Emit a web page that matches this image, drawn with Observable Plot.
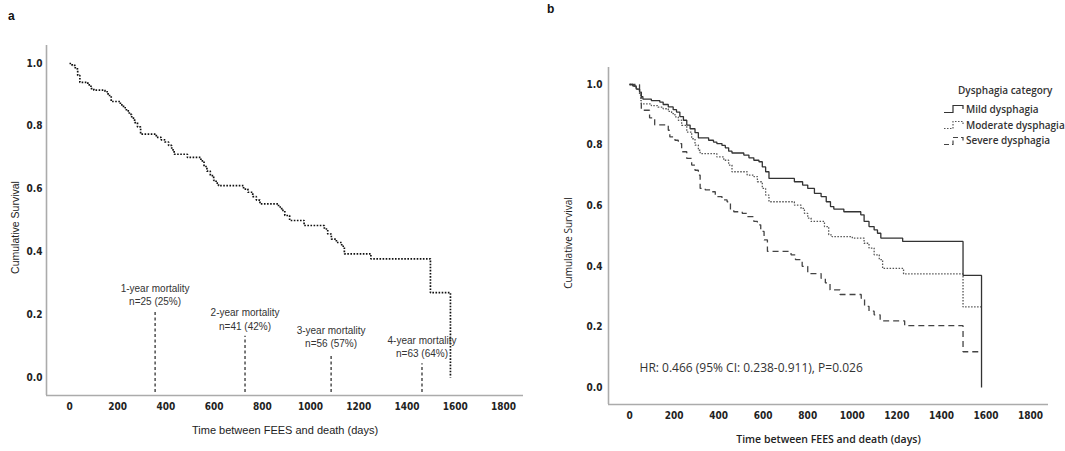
<!DOCTYPE html>
<html>
<head>
<meta charset="utf-8">
<script src="https://cdn.jsdelivr.net/npm/d3@7"></script>
<script src="https://cdn.jsdelivr.net/npm/@observablehq/plot@0.6"></script>
<style>
  html, body { margin: 0; padding: 0; background: #fff; }
  #wrap { position: relative; width: 1065px; height: 451px; overflow: hidden; background: #fff; }
  .panel { position: absolute; top: 0; }
  .tag { position: absolute; font-family: "Liberation Sans", Arial, sans-serif; font-weight: bold; font-size: 12px; color: #111; }
  #legend { position: absolute; left: 944px; top: 83px; font-family: "Open Sans", sans-serif; font-size: 10px; font-weight: 600; color: #333; }
  #legend .title { margin-left: 14px; height: 14px; line-height: 14px; margin-bottom: 4px; }
  #legend .row { display: flex; align-items: center; height: 15.8px; white-space: nowrap; }
  #legend svg { width: 21px; height: 11px; margin-right: 1px; }
</style>
</head>
<body>
<div id="wrap">
  <div class="tag" style="left:8px; top:9px;">a</div>
  <div class="tag" style="left:547px; top:2px;">b</div>
  <div id="panelA" class="panel" style="left:0px;"></div>
  <div id="panelB" class="panel" style="left:540px;"></div>
  <div id="legend"></div>
</div>
<script>
// ---------- shared ticks ----------
const xTicks = [0, 200, 400, 600, 800, 1000, 1200, 1400, 1600, 1800];
const yTicks = [0, 0.2, 0.4, 0.6, 0.8, 1.0];
const xTitle = "Time between FEES and death (days)";
const yTitle = "Cumulative Survival";

// ---------- panel a : overall Kaplan-Meier ----------
const timeA = [0, 11, 24, 34, 43, 76, 89, 101, 147, 160, 173, 211, 224, 236, 248, 258, 270, 282, 295, 360, 380, 395, 411, 424, 434, 489, 545, 558, 570, 584, 598, 608, 618, 722, 740, 760, 775, 790, 867, 880, 893, 913, 973, 1057, 1071, 1086, 1107, 1129, 1140, 1250, 1497, 1580];
const survA = [1.0, 0.994, 0.983, 0.962, 0.94, 0.932, 0.92, 0.915, 0.91, 0.898, 0.879, 0.868, 0.859, 0.849, 0.838, 0.826, 0.812, 0.798, 0.775, 0.765, 0.757, 0.75, 0.739, 0.725, 0.711, 0.701, 0.69, 0.672, 0.657, 0.643, 0.628, 0.619, 0.611, 0.6, 0.59, 0.576, 0.565, 0.553, 0.543, 0.532, 0.516, 0.5, 0.484, 0.473, 0.457, 0.441, 0.43, 0.418, 0.394, 0.378, 0.27, 0.0];

const mortDays  = [355, 728, 1085, 1462];
const mortTop   = [0.208, 0.131, 0.075, 0.044];
const mortTitle = ["1-year mortality", "2-year mortality", "3-year mortality", "4-year mortality"];
const mortCount = ["n=25 (25%)", "n=41 (42%)", "n=56 (57%)", "n=63 (64%)"];

// ---------- panel b : by dysphagia category ----------
const groups = ["Mild dysphagia", "Moderate dysphagia", "Severe dysphagia"];
const mildT = [0, 15, 30, 45, 53, 60, 98, 136, 151, 174, 196, 211, 226, 242, 257, 272, 294, 309, 355, 377, 392, 415, 430, 445, 460, 513, 536, 558, 581, 596, 611, 626, 740, 777, 800, 830, 860, 883, 902, 917, 962, 1038, 1053, 1075, 1098, 1113, 1128, 1226, 1497, 1580];
const mildS = [1.0, 0.995, 0.985, 0.975, 0.96, 0.952, 0.947, 0.942, 0.934, 0.926, 0.917, 0.909, 0.894, 0.882, 0.866, 0.854, 0.841, 0.824, 0.816, 0.81, 0.805, 0.799, 0.791, 0.78, 0.774, 0.767, 0.758, 0.75, 0.745, 0.728, 0.712, 0.69, 0.679, 0.668, 0.657, 0.641, 0.63, 0.613, 0.597, 0.589, 0.58, 0.57, 0.548, 0.531, 0.52, 0.509, 0.493, 0.482, 0.37, 0.0];
const modT = [0, 15, 30, 45, 50, 53, 98, 128, 151, 174, 189, 204, 219, 234, 257, 279, 294, 309, 317, 392, 423, 445, 460, 528, 558, 574, 596, 611, 626, 740, 770, 785, 800, 815, 875, 894, 909, 1000, 1053, 1075, 1098, 1121, 1136, 1230, 1497, 1580];
const modS = [1.0, 0.995, 0.985, 0.965, 0.947, 0.936, 0.93, 0.925, 0.92, 0.911, 0.904, 0.893, 0.882, 0.865, 0.843, 0.821, 0.8, 0.783, 0.772, 0.761, 0.75, 0.734, 0.712, 0.701, 0.696, 0.679, 0.657, 0.635, 0.613, 0.602, 0.591, 0.575, 0.559, 0.548, 0.531, 0.504, 0.498, 0.493, 0.476, 0.46, 0.438, 0.422, 0.393, 0.375, 0.266, 0.266];
const sevT = [0, 45, 53, 90, 113, 174, 181, 204, 219, 234, 257, 279, 294, 309, 317, 340, 362, 385, 415, 438, 453, 468, 506, 528, 558, 574, 589, 604, 619, 725, 745, 775, 800, 860, 879, 900, 945, 1040, 1055, 1075, 1098, 1125, 1235, 1497, 1580];
const sevS = [1.0, 0.97, 0.915, 0.89, 0.867, 0.849, 0.827, 0.816, 0.805, 0.778, 0.756, 0.734, 0.717, 0.701, 0.657, 0.652, 0.646, 0.63, 0.619, 0.613, 0.586, 0.58, 0.575, 0.564, 0.548, 0.537, 0.515, 0.487, 0.449, 0.438, 0.422, 0.4, 0.376, 0.36, 0.345, 0.322, 0.307, 0.294, 0.268, 0.252, 0.24, 0.22, 0.204, 0.118, 0.118];
const hrText = "HR: 0.466 (95% CI: 0.238-0.911), P=0.026";
const hrAt = {t: 45, s: 0.063};

// ---------- build tables ----------
const dataA = timeA.map((t, i) => ({t, s: survA[i]}));
const mort = mortDays.map((t, i) => ({t, top: mortTop[i], title: mortTitle[i], count: mortCount[i]}));
const toRows = (T, S, g) => T.map((t, i) => ({t, s: S[i], g}));
const mild = toRows(mildT, mildS, groups[0]);
const moderate = toRows(modT, modS, groups[1]);
const severe = toRows(sevT, sevS, groups[2]);

const fmt1 = d3.format(".1f");
const axisGray = "#ababab";
const tickFont = {fontFamily: "'Liberation Sans Narrow', 'DejaVu Sans Condensed', sans-serif", fontSize: 10, fontWeight: "bold", fill: "#222"};

// ---------- panel a ----------
const xDomA = [-95.4, 1883], yDomA = [-0.0573, 1.0573];
const plotA = Plot.plot({
  width: 540, height: 451,
  marginLeft: 46, marginRight: 17, marginTop: 45, marginBottom: 56,
  style: {background: "transparent", color: "#222"},
  x: {domain: xDomA, label: null},
  y: {domain: yDomA, label: null},
  marks: [
    Plot.axisX({ticks: xTicks, tickSize: 0, tickPadding: 7, tickFormat: d => String(d), label: null, ...tickFont}),
    Plot.axisY({ticks: yTicks, tickSize: 0, tickPadding: 4, tickFormat: fmt1, label: null, ...tickFont}),
    Plot.ruleX([xDomA[0]], {stroke: axisGray, strokeWidth: 1.6}),
    Plot.ruleY([yDomA[0]], {stroke: axisGray, strokeWidth: 1.6}),
    Plot.line(dataA, {x: "t", y: "s", curve: "step-after", stroke: "#111", strokeWidth: 1.7, strokeDasharray: "1.6,1.5", strokeLinecap: "butt", strokeLinejoin: "miter"}),
    Plot.ruleX(mort, {x: "t", y1: -0.048, y2: "top", stroke: "#222", strokeWidth: 1.2, strokeDasharray: "3,2.5"}),
    Plot.text(mort, {x: "t", y: d => d.top + 0.074, text: "title", fontFamily: "'Liberation Sans', sans-serif", fontSize: 10, fill: "#333"}),
    Plot.text(mort, {x: "t", y: d => d.top + 0.032, text: "count", fontFamily: "'Liberation Sans', sans-serif", fontSize: 10, fill: "#333"}),
    Plot.text([xTitle], {frameAnchor: "bottom", dy: 38, textAnchor: "middle", fontFamily: "'Liberation Sans Narrow', sans-serif", fontSize: 11, fill: "#222"}),
    Plot.text([yTitle], {frameAnchor: "left", dx: -31, dy: 7, rotate: -90, textAnchor: "middle", fontFamily: "'Liberation Sans', sans-serif", fontSize: 10.5, fill: "#222"})
  ]
});
document.getElementById("panelA").append(plotA);

// ---------- panel b ----------
const xDomB = [-94.3, 1880.6], yDomB = [-0.0561, 1.0561];
const bFont = "'Open Sans', sans-serif";
const plotB = Plot.plot({
  width: 525, height: 451,
  marginLeft: 68, marginRight: 17, marginTop: 67, marginBottom: 47,
  style: {background: "transparent", color: "#222"},
  x: {domain: xDomB, label: null},
  y: {domain: yDomB, label: null},
  marks: [
    Plot.axisX({ticks: xTicks, tickSize: 0, tickPadding: 7, tickFormat: d => String(d), label: null, ...tickFont}),
    Plot.axisY({ticks: yTicks, tickSize: 0, tickPadding: 6, tickFormat: fmt1, label: null, ...tickFont}),
    Plot.ruleX([xDomB[0]], {stroke: axisGray, strokeWidth: 1.6}),
    Plot.ruleY([yDomB[0]], {stroke: axisGray, strokeWidth: 1.6}),
    Plot.line(severe, {x: "t", y: "s", curve: "step-after", stroke: "#444", strokeWidth: 1.3, strokeDasharray: "6,4", strokeLinecap: "butt", strokeLinejoin: "miter"}),
    Plot.line(moderate, {x: "t", y: "s", curve: "step-after", stroke: "#555", strokeWidth: 1.3, strokeDasharray: "1.5,1.5", strokeLinecap: "butt", strokeLinejoin: "miter"}),
    Plot.line(mild, {x: "t", y: "s", curve: "step-after", stroke: "#333", strokeWidth: 1.3, strokeLinecap: "butt", strokeLinejoin: "miter"}),
    Plot.text([hrText], {x: hrAt.t, y: hrAt.s, textAnchor: "start", fontFamily: bFont, fontSize: 12, fill: "#333"}),
    Plot.text([xTitle], {frameAnchor: "bottom", dy: 38, textAnchor: "middle", fontFamily: bFont, fontSize: 10.5, fontWeight: 600, fill: "#222"}),
    Plot.text([yTitle], {frameAnchor: "left", dx: -40, dy: 7, rotate: -90, textAnchor: "middle", fontFamily: bFont, fontSize: 10, fill: "#222"})
  ]
});
document.getElementById("panelB").append(plotB);

// ---------- legend ----------
const legendStyles = [
  {dash: null, color: "#333"},
  {dash: "1.5,1.5", color: "#555"},
  {dash: "5,3", color: "#444"}
];
const legend = document.getElementById("legend");
legend.innerHTML = `<div class="title">Dysphagia category</div>` +
  groups.map((g, i) => {
    const st = legendStyles[i];
    return `<div class="row"><svg viewBox="0 0 21 11"><path d="M0,9.5H9V2.5H19V6" fill="none" stroke="${st.color}" stroke-width="1.2" ${st.dash ? `stroke-dasharray="${st.dash}"` : ""}/></svg><span>${g}</span></div>`;
  }).join("");
</script>
</body>
</html>
